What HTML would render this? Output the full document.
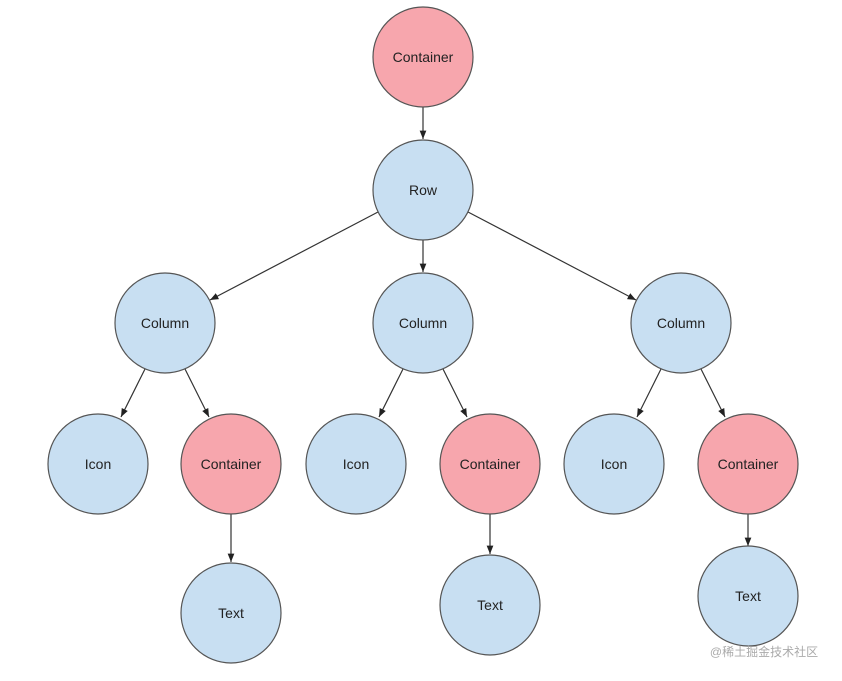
<!DOCTYPE html>
<html><head><meta charset="utf-8"><style>
html,body{margin:0;padding:0;background:#fff;}
svg text{font-family:"Liberation Sans",Arial,sans-serif;font-size:14px;fill:#222;text-anchor:middle;dominant-baseline:central;}
</style></head><body>
<svg width="842" height="676" viewBox="0 0 842 676" xmlns="http://www.w3.org/2000/svg">
<defs><marker id="a" viewBox="0 0 10 10" refX="10" refY="5" markerWidth="7" markerHeight="7" orient="auto"><path d="M0,1 L10,5 L0,9 z" fill="#222"/></marker></defs>
<g stroke="#333" stroke-width="1.2" marker-end="url(#a)">
<line x1="423" y1="107" x2="423" y2="139"/>
<line x1="378" y1="212" x2="210" y2="300"/>
<line x1="423" y1="240" x2="423" y2="272"/>
<line x1="468" y1="212" x2="636" y2="300"/>
<line x1="145" y1="369" x2="121" y2="417"/>
<line x1="185" y1="369" x2="209" y2="417"/>
<line x1="403" y1="369" x2="379" y2="417"/>
<line x1="443" y1="369" x2="467" y2="417"/>
<line x1="661" y1="369" x2="637" y2="417"/>
<line x1="701" y1="369" x2="725" y2="417"/>
<line x1="231" y1="514" x2="231" y2="562"/>
<line x1="490" y1="514" x2="490" y2="554"/>
<line x1="748" y1="514" x2="748" y2="546"/>
</g>
<g stroke="#555" stroke-width="1.2">
<circle cx="423" cy="57" r="50" fill="#f7a6ad"/>
<circle cx="423" cy="190" r="50" fill="#c8dff2"/>
<circle cx="165" cy="323" r="50" fill="#c8dff2"/>
<circle cx="423" cy="323" r="50" fill="#c8dff2"/>
<circle cx="681" cy="323" r="50" fill="#c8dff2"/>
<circle cx="98" cy="464" r="50" fill="#c8dff2"/>
<circle cx="231" cy="464" r="50" fill="#f7a6ad"/>
<circle cx="356" cy="464" r="50" fill="#c8dff2"/>
<circle cx="490" cy="464" r="50" fill="#f7a6ad"/>
<circle cx="614" cy="464" r="50" fill="#c8dff2"/>
<circle cx="748" cy="464" r="50" fill="#f7a6ad"/>
<circle cx="231" cy="613" r="50" fill="#c8dff2"/>
<circle cx="490" cy="605" r="50" fill="#c8dff2"/>
<circle cx="748" cy="596" r="50" fill="#c8dff2"/>
</g>
<text x="423" y="57">Container</text>
<text x="423" y="190">Row</text>
<text x="165" y="323">Column</text>
<text x="423" y="323">Column</text>
<text x="681" y="323">Column</text>
<text x="98" y="464">Icon</text>
<text x="231" y="464">Container</text>
<text x="356" y="464">Icon</text>
<text x="490" y="464">Container</text>
<text x="614" y="464">Icon</text>
<text x="748" y="464">Container</text>
<text x="231" y="613">Text</text>
<text x="490" y="605">Text</text>
<text x="748" y="596">Text</text>
<text x="764" y="652" style="font-family:'Liberation Sans','Noto Sans CJK SC',sans-serif;font-size:12px;fill:#aaa;">@稀土掘金技术社区</text>
</svg>
</body></html>
